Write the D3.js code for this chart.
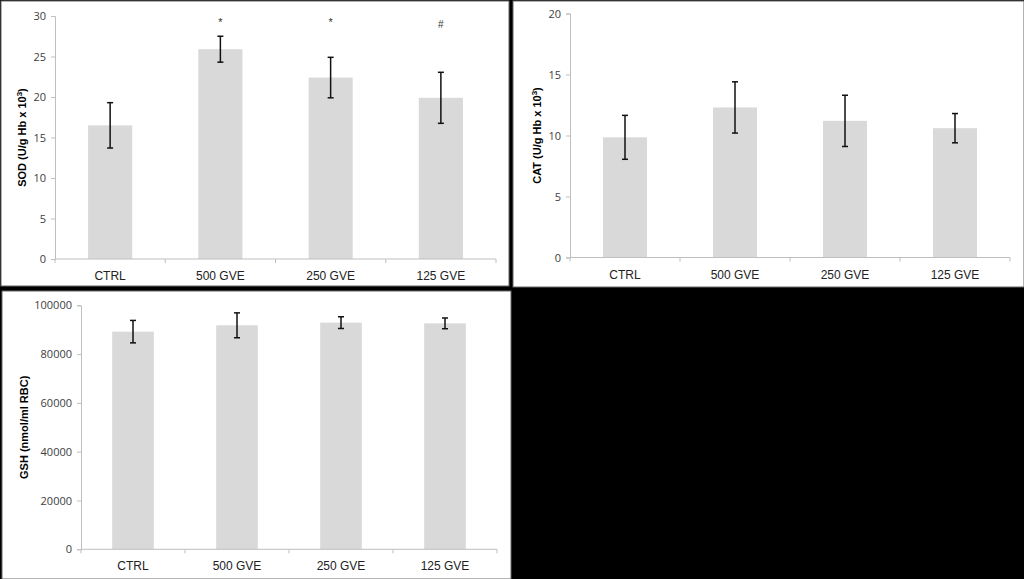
<!DOCTYPE html>
<html>
<head>
<meta charset="utf-8">
<script src="https://cdn.jsdelivr.net/npm/d3@7/dist/d3.min.js"></script>
<style>
  html, body { margin: 0; padding: 0; background: #000; }
  svg { display: block; }
</style>
</head>
<body>
<svg id="chart" width="1024" height="579"></svg>
<script>
// ---- data ----
const categories = ["CTRL", "500 GVE", "250 GVE", "125 GVE"];

const sodMeans = [16.5, 25.9, 22.4, 19.9];
const sodErrors = [2.8, 1.6, 2.5, 3.15];
const sodMarks = ["", "*", "*", "#"];
const sodTicks = [0, 5, 10, 15, 20, 25, 30];

const catMeans = [9.85, 12.3, 11.2, 10.6];
const catErrors = [1.8, 2.1, 2.1, 1.2];
const catTicks = [0, 5, 10, 15, 20];

const gshMeans = [89200, 91800, 92900, 92600];
const gshErrors = [4600, 5100, 2400, 2200];
const gshTicks = [0, 20000, 40000, 60000, 80000, 100000];

// ---- drawing ----
const svg = d3.select("#chart");
svg.append("rect").attr("width", 1024).attr("height", 579).attr("fill", "#000");

function panel(opt) {
  const g = svg.append("g");
  g.append("rect")
    .attr("x", opt.box[0]).attr("y", opt.box[1])
    .attr("width", opt.box[2]).attr("height", opt.box[3])
    .attr("fill", "#fff").attr("stroke", "#666").attr("stroke-width", 1);

  const x = d3.scaleBand().domain(categories).range([opt.x0, opt.x1]).paddingInner(0.6).paddingOuter(0.3);
  const xc = d3.scaleBand().domain(categories).range([opt.x0, opt.x1]);
  const y = d3.scaleLinear().domain([0, opt.max]).range([opt.y0, opt.y1]);

  // bars
  g.selectAll(".bar").data(opt.means).enter().append("rect")
    .attr("x", (d, i) => x(categories[i]))
    .attr("width", x.bandwidth())
    .attr("y", d => y(d))
    .attr("height", d => y(0) - y(d))
    .attr("fill", "#d9d9d9");

  // y axis
  const ya = g.append("g").attr("transform", `translate(${opt.x0},0)`)
    .call(d3.axisLeft(y).tickValues(opt.ticks).tickSize(4).tickPadding(5).tickFormat(d3.format("d")));
  ya.select(".domain").attr("stroke", "#bfbfbf");
  ya.selectAll(".tick line").attr("stroke", "#bfbfbf");
  ya.selectAll(".tick text").attr("fill", "#404040")
    .style("font-family", "'Open Sans', 'Liberation Sans', sans-serif").style("font-size", "11px");

  // x axis
  const xa = g.append("g").attr("transform", `translate(0,${opt.y0})`);
  xa.append("line").attr("x1", opt.x0).attr("x2", opt.x1).attr("y1", 0).attr("y2", 0).attr("stroke", "#bfbfbf");
  const bounds = categories.map(c => xc(c)).concat([opt.x1]);
  xa.selectAll(".xt").data(bounds).enter().append("line")
    .attr("x1", d => d).attr("x2", d => d).attr("y1", 0).attr("y2", 4).attr("stroke", "#bfbfbf");
  xa.selectAll(".xl").data(categories).enter().append("text")
    .attr("x", d => xc(d) + xc.bandwidth() / 2)
    .attr("y", 21)
    .attr("text-anchor", "middle")
    .attr("fill", "#222")
    .style("font-family", "'Liberation Sans', Arial, sans-serif").style("font-size", "12px")
    .text(d => d);

  // error bars
  const eb = g.selectAll(".eb").data(opt.means).enter().append("g");
  eb.append("line")
    .attr("x1", (d, i) => x(categories[i]) + x.bandwidth() / 2)
    .attr("x2", (d, i) => x(categories[i]) + x.bandwidth() / 2)
    .attr("y1", (d, i) => y(d + opt.errors[i]))
    .attr("y2", (d, i) => y(d - opt.errors[i]))
    .attr("stroke", "#111").attr("stroke-width", 1.5);
  ["+", "-"].forEach(s => {
    eb.append("line")
      .attr("x1", (d, i) => x(categories[i]) + x.bandwidth() / 2 - 3)
      .attr("x2", (d, i) => x(categories[i]) + x.bandwidth() / 2 + 3)
      .attr("y1", (d, i) => y(s === "+" ? d + opt.errors[i] : d - opt.errors[i]))
      .attr("y2", (d, i) => y(s === "+" ? d + opt.errors[i] : d - opt.errors[i]))
      .attr("stroke", "#111").attr("stroke-width", 1.5);
  });

  // significance marks
  if (opt.marks) {
    g.selectAll(".mk").data(opt.marks).enter().append("text")
      .attr("x", (d, i) => xc(categories[i]) + xc.bandwidth() / 2)
      .attr("y", d => d === "#" ? opt.y1 + 12 : opt.y1 + 10)
      .attr("text-anchor", "middle")
      .attr("fill", "#333")
      .style("font-family", "'Liberation Sans', Arial, sans-serif")
      .style("font-size", d => d === "#" ? "10px" : "11px")
      .text(d => d);
  }

  // y label
  g.append("text")
    .attr("transform", `translate(${opt.labelX},${(opt.y0 + opt.y1) / 2}) rotate(-90)`)
    .attr("text-anchor", "middle")
    .attr("dy", "0.35em")
    .attr("fill", "#000")
    .style("font-family", "'Liberation Sans', Arial, sans-serif")
    .style("font-size", "11px").style("font-weight", "bold")
    .html(opt.label);
}

panel({
  box: [1, 1, 508, 285], x0: 55, x1: 496, y0: 259, y1: 16, max: 30,
  means: sodMeans, errors: sodErrors, ticks: sodTicks, marks: sodMarks,
  labelX: 22, label: "SOD (U/g Hb x 10<tspan dy='-4' font-size='8px'>3</tspan><tspan dy='4'>)</tspan>"
});
panel({
  box: [513, 1, 511, 286], x0: 570, x1: 1010, y0: 257.5, y1: 13.5, max: 20,
  means: catMeans, errors: catErrors, ticks: catTicks,
  labelX: 537.5, label: "CAT (U/g Hb x 10<tspan dy='-4' font-size='8px'>3</tspan><tspan dy='4'>)</tspan>"
});
panel({
  box: [2, 291, 509, 288], x0: 81, x1: 497, y0: 549.3, y1: 305.3, max: 100000,
  means: gshMeans, errors: gshErrors, ticks: gshTicks,
  labelX: 24.5, label: "GSH (nmol/ml RBC)"
});
</script>
</body>
</html>
